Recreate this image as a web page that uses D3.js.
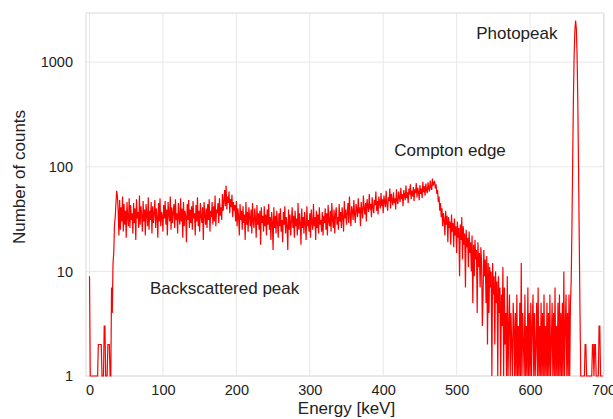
<!DOCTYPE html>
<html>
<head>
<meta charset="utf-8">
<script src="https://cdn.jsdelivr.net/npm/d3@7"></script>
<style>
  body { margin: 0; background: #fff; }
  text { font-family: "Liberation Sans", Arial, sans-serif; fill: #222; }
</style>
</head>
<body>
<script>
// counts per 1 keV channel, channel 0..699 (zeros drawn as 1)
const counts = [
  9,1,1,1,1,1,1,1,1,1,1,1,2,2,2,2,2,1,1,1,
  3,3,1,1,1,2,2,2,1,1,7,4,12,15,28,33,45,59,52,38,
  22,48,25,41,30,52,24,44,28,38,21,46,33,27,50,26,43,31,36,23,
  45,29,40,20,49,32,37,26,53,28,42,34,24,47,30,39,22,44,35,27,
  51,25,38,31,46,23,42,29,36,48,26,40,33,21,45,30,50,27,37,34,
  24,43,32,47,28,39,22,46,35,30,52,25,41,29,37,44,26,49,31,36,
  23,45,33,28,50,30,40,21,46,27,38,34,19,44,31,48,26,39,29,42,
  25,47,32,36,22,43,30,51,27,38,24,45,33,29,41,20,46,35,28,40,
  26,44,31,49,24,38,33,46,28,42,30,53,27,39,36,45,29,50,34,41,
  31,55,38,47,60,42,66,39,52,45,58,36,49,41,54,33,46,38,43,30,
  47,27,40,34,22,44,31,38,25,42,29,35,20,46,28,37,24,41,33,27,
  39,23,45,30,26,40,32,21,43,28,36,25,38,18,41,29,34,24,42,27,
  35,22,39,28,44,25,33,20,37,30,16,41,26,34,23,38,29,21,36,27,
  40,24,31,19,37,28,42,23,33,27,16,39,25,35,22,30,41,26,34,21,
  38,27,32,22,45,25,36,29,18,40,26,33,23,37,28,20,42,27,31,24,
  36,21,39,29,25,44,27,33,20,38,26,35,23,41,28,31,24,37,22,34,
  29,40,25,36,22,43,30,27,38,24,45,31,26,39,23,35,41,28,33,25,
  44,30,37,26,41,33,24,47,32,39,28,36,45,29,52,34,27,42,38,31,
  48,35,29,44,39,33,50,36,41,27,46,38,32,53,40,35,45,30,49,42,
  37,55,39,44,33,51,41,36,48,43,58,38,47,35,52,45,40,56,42,49,
  36,53,46,41,59,44,38,51,47,62,40,55,48,43,57,45,50,39,61,47,
  44,58,51,46,63,49,55,42,60,53,48,66,50,57,45,62,54,68,49,59,
  52,64,47,61,56,70,51,63,58,48,67,55,62,50,72,57,65,53,69,60,
  56,71,62,58,74,64,60,77,66,70,73,62,68,55,60,46,52,38,45,33,
  40,27,36,31,22,38,28,34,19,33,26,30,18,35,24,29,17,32,22,27,
  15,30,21,26,9,28,20,33,13,27,18,23,7,25,17,21,11,24,15,19,
  10,22,5,18,9,20,13,16,4,19,11,15,7,17,12,3,6,16,9,13,
  5,14,2,12,4,11,7,10,1,12,6,9,2,10,5,8,1,9,4,7,
  1,6,3,11,1,7,2,4,1,9,1,3,6,1,4,2,1,5,3,1,
  4,1,6,1,3,1,5,1,12,1,4,2,1,6,1,3,1,7,1,4,
  1,5,1,3,6,1,4,1,2,5,1,7,1,3,1,5,1,4,1,6,
  1,3,1,5,1,4,1,6,1,2,5,1,4,1,7,1,3,1,5,1,
  6,1,4,1,5,1,10,1,3,6,1,4,1,6,1,5,8,25,110,420,
  1150,2000,2500,2100,1200,420,100,20,4,1,1,1,1,1,1,2,2,1,1,1,
  1,1,1,1,1,2,2,1,2,2,1,1,1,1,3,3,1,1,1,1
];
const xTicks = [0, 100, 200, 300, 400, 500, 600, 700];
const yTicks = [1, 10, 100, 1000];
const notes = [
  { text: "Photopeak", e: 582, c: 1680 },
  { text: "Compton edge", e: 491, c: 127 },
  { text: "Backscattered peak", e: 184, c: 6.1 }
];

const width = 613, height = 419;
const mLeft = 86, mRight = 604, mTop = 13, mBottom = 376;

const x = d3.scaleLinear().domain([-4.8, 700.7]).range([mLeft, mRight]);
const y = d3.scaleLog().domain([1, 2950]).range([mBottom, mTop]);

const svg = d3.select("body").append("svg")
  .attr("width", width)
  .attr("height", height);

// grid
svg.append("g").selectAll("line")
  .data(xTicks)
  .join("line")
    .attr("x1", d => x(d)).attr("x2", d => x(d))
    .attr("y1", mTop).attr("y2", mBottom)
    .attr("stroke", "#e8e8e8");

svg.append("g").selectAll("line")
  .data(yTicks)
  .join("line")
    .attr("x1", mLeft).attr("x2", mRight)
    .attr("y1", d => y(d)).attr("y2", d => y(d))
    .attr("stroke", "#e8e8e8");

// frame
svg.append("rect")
  .attr("x", mLeft).attr("y", mTop)
  .attr("width", mRight - mLeft).attr("height", mBottom - mTop)
  .attr("fill", "none")
  .attr("stroke", "#dcdcdc");

// spectrum
const line = d3.line()
  .x((d, i) => x(i))
  .y(d => y(Math.max(1, d)));

svg.append("path")
  .datum(counts)
  .attr("fill", "none")
  .attr("stroke", "#ff0000")
  .attr("stroke-width", 1.2)
  .attr("d", line);

// axes labels
const xAxis = d3.axisBottom(x).tickValues(xTicks).tickSize(0).tickPadding(9);
svg.append("g")
  .attr("transform", `translate(0,${mBottom})`)
  .call(xAxis)
  .call(g => g.select(".domain").remove())
  .call(g => g.selectAll("text").attr("font-size", 14.5).attr("fill", "#222")
    .attr("font-family", "Liberation Sans, Arial, sans-serif"));

const yAxis = d3.axisLeft(y).tickValues(yTicks).tickFormat(d3.format("d")).tickSize(0).tickPadding(13);
svg.append("g")
  .attr("transform", `translate(${mLeft},0)`)
  .call(yAxis)
  .call(g => g.select(".domain").remove())
  .call(g => g.selectAll("text").attr("font-size", 14.5).attr("fill", "#222")
    .attr("font-family", "Liberation Sans, Arial, sans-serif"));

svg.append("text")
  .attr("x", x(350)).attr("y", 414)
  .attr("text-anchor", "middle")
  .attr("font-size", 17)
  .text("Energy [keV]");

svg.append("text")
  .attr("transform", `translate(25,177) rotate(-90)`)
  .attr("text-anchor", "middle")
  .attr("font-size", 17)
  .text("Number of counts");

// annotations
svg.append("g").selectAll("text")
  .data(notes)
  .join("text")
    .attr("x", d => x(d.e))
    .attr("y", d => y(d.c))
    .attr("text-anchor", "middle")
    .attr("font-size", 17)
    .text(d => d.text);
</script>
</body>
</html>
